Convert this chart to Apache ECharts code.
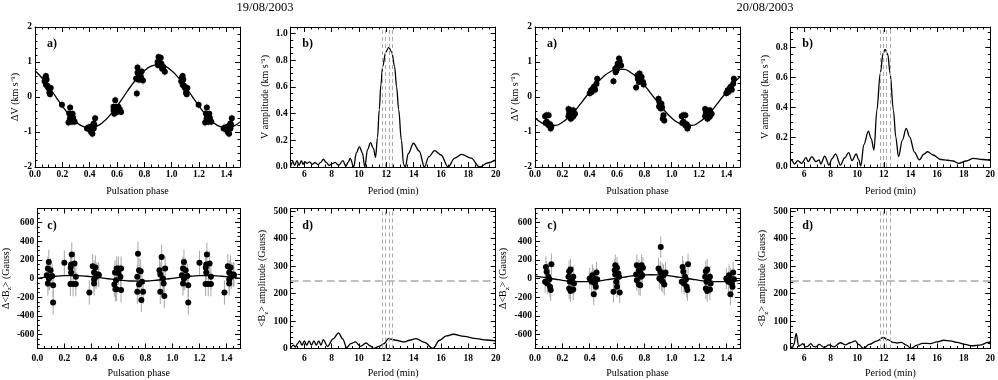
<!DOCTYPE html>
<html><head><meta charset="utf-8">
<script src="https://cdn.jsdelivr.net/npm/echarts@6/dist/echarts.min.js"></script>
<style>html,body{margin:0;padding:0;background:#fff}#c{width:998px;height:380px}</style>
</head><body><div id="c"></div>
<script>
// ---------------- DATA ----------------
const titles = ['19/08/2003', '20/08/2003'];
const panelLabels = ['a)', 'b)', 'c)', 'd)'];
const phaseTicks = [0, 0.2, 0.4, 0.6, 0.8, 1.0, 1.2, 1.4];
const dvTicks = [-2, -1, 0, 1, 2];
const periodTicks = [6, 8, 10, 12, 14, 16, 18, 20];
const ampTicks1 = [0, 0.2, 0.4, 0.6, 0.8, 1.0];
const ampTicks2 = [0, 0.2, 0.4, 0.6, 0.8];
const dbTicks = [-600, -400, -200, 0, 200, 400, 600];
const bampTicks = [0, 100, 200, 300, 400, 500];
const dashedPeriods = [11.7, 11.95, 12.2, 12.45];
const bThreshold = 245;
const errV1 = 0.12, errV2 = 0.12, errB1 = 130, errB2 = 115;

// 19/08/2003 radial velocity (phase 0-1; points with phase<0.5 are repeated one cycle later)
const phaseV1 = [0.075,0.08,0.085,0.07,0.08,0.09,0.095,0.10,0.105,0.11,0.115, 0.197,
  0.257,0.25,0.26,0.27,0.28,0.245,0.27,0.29,0.275,0.255,
  0.39,0.40,0.41,0.42,0.43,0.435,0.44,0.43,0.41,0.42,0.38,
  0.587,0.574,0.594,0.60,0.58,0.60,0.62,0.63,0.575,0.61,0.585,
  0.75,0.75,0.74,0.76,0.77,0.78,0.79,0.765,0.745,0.755,0.775,
  0.904,0.92,0.897,0.91,0.925,0.94,0.90,0.95,0.93,0.915];
const dV1 = [0.55,0.60,0.50,0.45,0.35,0.32,0.28,0.25,0.12,0.08,0.26, -0.22,
  -0.30,-0.47,-0.54,-0.52,-0.60,-0.73,-0.71,-0.71,-0.48,-0.62,
  -0.87,-0.93,-1.0,-1.05,-0.9,-0.8,-0.61,-0.76,-0.84,-0.92,-0.9,
  -0.09,-0.28,-0.28,-0.38,-0.48,-0.43,-0.35,-0.43,-0.38,-0.28,-0.33,
  0.84,0.69,0.53,0.59,0.64,0.73,0.47,0.50,0.10,0.5,0.57,
  1.14,1.12,1.0,1.02,0.95,0.86,0.91,0.72,0.81,0.93];
// 19/08/2003 magnetic field
const phaseB1 = [0.085,0.078,0.098,0.07,0.11,0.085,0.078,0.117,0.117,0.09, 0.2,
  0.25,0.255,0.247,0.25,0.275,0.285,0.245,0.265,0.285, 0.385,
  0.41,0.43,0.42,0.452,0.435,0.42,0.42,0.44,0.455,
  0.587,0.60,0.62,0.575,0.57,0.587,0.578,0.62,0.615,0.583,0.6,
  0.745,0.753,0.74,0.753,0.74,0.783,0.77,0.775,0.765,
  0.92,0.904,0.91,0.93,0.91,0.94,0.946,0.935];
const dB1 = [178,106,89,36,28,0,-53,-71,-256,10, 170,
  149,256,114,64,160,18,-60,-60,-60, -149,
  131,117,64,43,18,-11,-53,43,36,
  107,107,107,64,-64,-114,-114,-124,18,-18,60,
  266,89,18,-64,-142,-142,-231,-36,78,
  231,89,43,0,-142,-188,107,-53];
// 20/08/2003 radial velocity
const phaseV2 = [0.085,0.10,0.074,0.085,0.095,0.11,0.12,0.115,0.10,0.078,
  0.245,0.257,0.27,0.28,0.25,0.26,0.275,0.285,0.245,0.262,0.293,0.252,0.265,0.28,
  0.41,0.425,0.435,0.45,0.455,0.415,0.43,0.44,0.40,0.42,
  0.574,0.587,0.60,0.61,0.62,0.615,0.595,0.605,0.59,0.63,0.60,
  0.74,0.75,0.765,0.775,0.79,0.76,0.78,0.752,0.765,0.795,0.77,0.755,
  0.904,0.91,0.917,0.93,0.925,0.908,0.94,0.935,0.946,0.92];
const dV2 = [-0.52,-0.52,-0.55,-0.71,-0.76,-0.78,-0.84,-0.9,-0.81,-0.74,
  -0.34,-0.38,-0.43,-0.38,-0.48,-0.52,-0.57,-0.50,-0.55,-0.62,-0.48,-0.41,-0.45,-0.55,
  0.19,0.24,0.30,0.38,0.52,0.14,0.28,0.21,0.11,0.2,
  0.45,0.81,0.86,0.9,1.02,1.1,0.76,0.95,0.71,0.9,0.80,
  0.27,0.62,0.57,0.49,0.43,0.43,0.57,0.52,0.67,0.36,0.47,0.58,
  -0.05,-0.14,-0.24,-0.3,-0.19,-0.27,-0.52,-0.62,-0.67,-0.33];
// 20/08/2003 magnetic field
const phaseB2 = [0.08,0.085,0.098,0.074,0.09,0.11,0.115,0.12,0.105,
  0.25,0.26,0.245,0.27,0.28,0.25,0.26,0.28,0.285,0.255,
  0.40,0.415,0.43,0.44,0.45,0.445,0.43,0.42,0.455,
  0.574,0.587,0.60,0.61,0.587,0.595,0.60,0.62,0.583,0.615,
  0.745,0.76,0.77,0.78,0.79,0.745,0.76,0.775,0.785,0.74,0.77,
  0.92,0.904,0.917,0.93,0.94,0.91,0.935,0.946,0.925,0.955];
const dB2 = [124,71,18,-36,-53,-89,-124,153,-7,
  78,96,18,-11,18,-107,-135,-117,-53,-36,
  0,-36,0,-53,64,-89,-170,36,-7,
  -142,142,114,53,43,-36,-89,-149,89,18,
  142,89,64,142,114,-18,-64,18,36,43,-71,
  337,107,71,54,36,0,-36,-64,-18,64];

// fitted curves
const fitPhase = [0,0.05,0.1,0.15,0.2,0.25,0.3,0.35,0.4,0.45,0.5,0.55,0.6,0.65,0.7,0.75,0.8,0.85,0.9,0.95,1.0,1.05,1.1,1.15,1.2,1.25,1.3,1.35,1.4,1.45,1.5];
const fitV1 = [0.75,0.55,0.30,0.02,-0.26,-0.51,-0.71,-0.84,-0.88,-0.84,-0.71,-0.51,-0.26,0.02,0.30,0.55,0.75,0.88,0.92,0.88,0.75,0.55,0.30,0.02,-0.26,-0.51,-0.71,-0.84,-0.88,-0.84,-0.71];
const fitV2 = [-0.60,-0.74,-0.81,-0.81,-0.72,-0.57,-0.36,-0.11,0.14,0.38,0.58,0.72,0.79,0.79,0.70,0.55,0.34,0.09,-0.16,-0.40,-0.60,-0.74,-0.81,-0.81,-0.72,-0.57,-0.36,-0.11,0.14,0.38,0.58];
const fitB1 = [2,11,20,26,31,32,31,26,20,11,2,-7,-16,-22,-27,-28,-27,-22,-16,-7,2,11,20,26,31,32,31,26,20,11,2];
const fitB2 = [25,14,3,-8,-19,-27,-32,-34,-32,-27,-19,-8,3,14,25,33,38,40,38,33,25,14,3,-8,-19,-27,-32,-34,-32,-27,-19];

// amplitude spectra (period in min)
const perV1 = [5.0,5.16,5.29,5.46,5.61,5.78,5.9,6.03,6.2,6.4,6.57,6.77,7.01,7.2,7.39,7.6,7.81,8.05,8.25,8.5,8.82,9.04,9.2,9.36,9.61,9.8,10.03,10.25,10.42,10.62,10.84,11.05,11.21,11.35,11.48,11.6,11.73,11.95,12.18,12.4,12.6,12.75,12.9,13.1,13.26,13.39,13.6,13.98,14.4,14.79,15.1,15.53,16.0,16.52,17.0,17.51,18.2,18.82,19.4,20.0];
const ampV1 = [0.008,0.04,0.012,0.048,0.012,0.048,0.02,0.04,0.028,0.038,0.02,0.033,0.018,0.035,0.058,0.035,0.012,0.025,0.035,0.012,0.048,0.005,0.035,0.065,0.0,0.105,0.153,0.105,0.0,0.13,0.183,0.14,0.073,0.22,0.43,0.62,0.754,0.86,0.897,0.86,0.754,0.6,0.43,0.2,0.02,0.0,0.1,0.178,0.12,0.0,0.076,0.123,0.09,0.0,0.066,0.095,0.066,0.0,0.03,0.053];
const perV2 = [5.0,5.04,5.29,5.53,5.83,6.15,6.32,6.59,6.89,7.14,7.26,7.56,7.88,8.1,8.37,8.74,9.05,9.36,9.61,9.93,10.1,10.27,10.5,10.84,11.05,11.26,11.48,11.73,11.95,12.1,12.3,12.47,12.72,12.9,13.1,13.4,13.68,13.95,14.3,14.67,15.0,15.29,15.7,16.27,16.8,17.2,17.63,18.2,18.74,19.4,20.0];
const ampV2 = [0.04,0.051,0.02,0.042,0.024,0.062,0.036,0.069,0.036,0.047,0.02,0.073,0.013,0.055,0.087,0.013,0.06,0.096,0.042,0.087,0.05,0.007,0.15,0.24,0.19,0.113,0.38,0.625,0.76,0.785,0.75,0.625,0.38,0.2,0.07,0.18,0.258,0.2,0.1,0.047,0.085,0.102,0.08,0.05,0.045,0.04,0.024,0.04,0.058,0.05,0.045];
const perB1 = [5.0,5.2,5.35,5.5,5.66,5.83,6.0,6.17,6.35,6.52,6.7,6.87,7.05,7.22,7.38,7.7,8.1,8.5,8.8,9.1,9.4,9.73,10.1,10.52,10.8,11.09,11.46,11.83,12.15,12.7,13.3,13.7,14.17,14.8,15.4,15.9,16.4,16.9,17.7,18.6,19.3,20.0];
const ampB1 = [2,12,5,18,28,12,28,12,28,12,28,12,28,12,32,8,35,57,35,3,18,24,8,20,10,0,8,18,36,30,24,30,36,22,0,30,46,52,44,36,31,28];
const perB2 = [5.0,5.1,5.25,5.41,5.6,5.75,5.9,6.1,6.27,6.52,6.7,6.89,7.14,7.51,7.88,8.25,8.74,9.11,9.48,9.85,10.1,10.47,10.9,11.5,11.96,12.3,12.7,13.0,13.32,13.7,14.05,14.5,14.9,15.5,16.0,16.5,17.0,17.5,18.1,18.6,19.2,19.85,20.0];
const ampB2 = [10,2,15,55,8,12,18,6,8,18,8,6,15,4,13,6,21,13,21,28,15,0,15,28,40,32,22,20,22,12,0,12,19,18,24,30,28,22,15,10,12,22,24];

// ---------------- CHART ----------------
const SERIF = '"Liberation Serif","Times New Roman",serif';
const grid = [], xAxis = [], yAxis = [], series = [], graphic = [];

function minorVals(min, max, step, major) {
  const out = [];
  const n0 = Math.ceil(min / step - 1e-9), n1 = Math.floor(max / step + 1e-9);
  for (let n = n0; n <= n1; n++) {
    const v = Math.round(n * step * 1e6) / 1e6;
    if (!major.some(m => Math.abs(m - v) < 1e-9)) out.push(v);
  }
  return out;
}

function axisSet(dim, gi, c, posMain, posOther) {
  const arr = dim === 'x' ? xAxis : yAxis;
  const idx = arr.length;
  const base = { gridIndex: gi, type: 'value', min: c.min, max: c.max, splitLine: { show: false } };
  const line = { show: true, onZero: false, lineStyle: { color: '#000', width: 1 } };
  const tickStyle = { color: '#000', width: 1 };
  const minor = minorVals(c.min, c.max, c.minorStep, c.ticks);
  arr.push(Object.assign({}, base, {
    position: posMain, axisLine: line,
    axisTick: { show: true, inside: true, length: 5, customValues: c.ticks, lineStyle: tickStyle },
    axisLabel: { show: true, customValues: c.ticks, formatter: c.fmt, margin: c.margin, color: '#000',
      fontFamily: SERIF, fontWeight: 'bold', fontSize: 9.5 },
    name: c.name, nameLocation: 'middle', nameGap: c.nameGap,
    nameTextStyle: { color: '#000', fontFamily: SERIF, fontSize: 10,
      rich: { s: { fontFamily: SERIF, fontSize: 7, padding: [7, 0, 0, 0], color: '#000' } } }
  }));
  arr.push(Object.assign({}, base, {
    position: posOther, axisLine: line,
    axisTick: { show: true, inside: true, length: 5, customValues: c.ticks, lineStyle: tickStyle },
    axisLabel: { show: false }
  }));
  [posMain, posOther].forEach(p => arr.push(Object.assign({}, base, {
    position: p, axisLine: { show: false, onZero: false },
    axisTick: { show: true, inside: true, length: 2.5, customValues: minor, lineStyle: tickStyle },
    axisLabel: { show: false }
  })));
  return idx;
}

function addPanel(box, xc, yc, label) {
  const gi = grid.length;
  grid.push({ left: box[0], top: box[1], width: box[2], height: box[3], containLabel: false });
  const xi = axisSet('x', gi, xc, 'bottom', 'top');
  const yi = axisSet('y', gi, yc, 'left', 'right');
  graphic.push({ type: 'text', x: box[0] + 17, y: box[1] + 17,
    style: { text: label, fontFamily: SERIF, fontWeight: 'bold', fontSize: 12, fill: '#000', align: 'center', verticalAlign: 'middle' } });
  return { xi, yi };
}

const f1 = v => v.toFixed(1);
const f0 = v => String(Math.round(v));

function phaseAxis(margin, gap) {
  return { min: 0, max: 1.5, ticks: phaseTicks, minorStep: 0.05, fmt: f1, margin, name: 'Pulsation phase', nameGap: gap };
}
function periodAxis(margin, gap) {
  return { min: 5, max: 20, ticks: periodTicks, minorStep: 0.5, fmt: f0, margin, name: 'Period (min)', nameGap: gap };
}

function phased(ph, val, err) {
  const out = [];
  ph.forEach((p, i) => { out.push([p, val[i], err]); if (p + 1 <= 1.5) out.push([p + 1, val[i], err]); });
  return out;
}

function addPhasePanel(ax, ph, val, err, fit, errColor) {
  const d = phased(ph, val, err);
  series.push({
    type: 'custom', xAxisIndex: ax.xi, yAxisIndex: ax.yi, z: 1, silent: true,
    encode: { x: 0, y: 1 },
    renderItem: (params, api) => {
      const x = api.value(0), y = api.value(1), e = api.value(2);
      const a = api.coord([x, y - e]), b = api.coord([x, y + e]);
      return { type: 'line', shape: { x1: a[0], y1: a[1], x2: b[0], y2: b[1] }, style: { stroke: errColor, lineWidth: 1 } };
    },
    data: d
  });
  series.push({ type: 'scatter', xAxisIndex: ax.xi, yAxisIndex: ax.yi, z: 2, symbol: 'circle', symbolSize: 6,
    itemStyle: { color: '#000', opacity: 1 }, data: d.map(r => [r[0], r[1]]) });
  series.push({ type: 'line', xAxisIndex: ax.xi, yAxisIndex: ax.yi, z: 3, smooth: true, showSymbol: false,
    lineStyle: { color: '#000', width: 1.3 }, data: fitPhase.map((p, i) => [p, fit[i]]) });
}

function addSpecPanel(ax, per, amp, thr) {
  const ml = dashedPeriods.map(p => ({ xAxis: p, lineStyle: { type: [4, 3], color: '#aaa', width: 1 } }));
  if (thr !== null) ml.push({ yAxis: thr, lineStyle: { type: [8, 4], color: '#aaa', width: 1.6 } });
  series.push({ type: 'line', xAxisIndex: ax.xi, yAxisIndex: ax.yi, z: 3, smooth: 0.35, smoothMonotone: 'x', showSymbol: false,
    lineStyle: { color: '#000', width: 1.3 }, data: per.map((p, i) => [p, amp[i]]),
    markLine: { silent: true, symbol: 'none', label: { show: false }, animation: false, data: ml } });
}

const colX = [35, 290.7, 535, 790.7];
const topY = 27, botY = 208.5, W = 205, H = 140;
const vName = 'ΔV (km s⁻¹)', ampName = 'V amplitude (km s⁻¹)';
const bName = 'Δ<B{s|z}> (Gauss)', bampName = '<B{s|z}> amplitude (Gauss)';

const days = [
  { col: 0, ph: phaseV1, v: dV1, fv: fitV1, phB: phaseB1, b: dB1, fb: fitB1, per: perV1, amp: ampV1, ymax: 1.05, aTicks: ampTicks1, perB: perB1, ampB: ampB1, eV: errV1, eB: errB1 },
  { col: 2, ph: phaseV2, v: dV2, fv: fitV2, phB: phaseB2, b: dB2, fb: fitB2, per: perV2, amp: ampV2, ymax: 0.935, aTicks: ampTicks2, perB: perB2, ampB: ampB2, eV: errV2, eB: errB2 }
];

days.forEach((dd, k) => {
  const xa = colX[dd.col], xb = colX[dd.col + 1];
  let ax = addPanel([xa, topY, W, H], phaseAxis(3, 19),
    { min: -2, max: 2, ticks: dvTicks, minorStep: 0.2, fmt: f0, margin: 3, name: vName, nameGap: 14 }, panelLabels[0]);
  addPhasePanel(ax, dd.ph, dd.v, dd.eV, dd.fv, '#b5b5b5');
  ax = addPanel([xb, topY, W, H], periodAxis(3, 19),
    { min: 0, max: dd.ymax, ticks: dd.aTicks, minorStep: 0.05, fmt: f1, margin: 3, name: ampName, nameGap: 20 }, panelLabels[1]);
  addSpecPanel(ax, dd.per, dd.amp, null);
  ax = addPanel([xa, botY, W, H], phaseAxis(5, 20),
    { min: -750, max: 750, ticks: dbTicks, minorStep: 50, fmt: f0, margin: 3, name: bName, nameGap: 20 }, panelLabels[2]);
  addPhasePanel(ax, dd.phB, dd.b, dd.eB, dd.fb, '#a8a8a8');
  ax = addPanel([xb, botY, W, H], periodAxis(5, 20),
    { min: 0, max: 510, ticks: bampTicks, minorStep: 20, fmt: f0, margin: 3, name: bampName, nameGap: 21 }, panelLabels[3]);
  addSpecPanel(ax, dd.perB, dd.ampB, bThreshold);
  graphic.push({ type: 'text', x: 265 + 500 * k, y: 8,
    style: { text: titles[k], fontFamily: SERIF, fontSize: 12.5, fill: '#000', align: 'center', verticalAlign: 'middle' } });
});

const chart = echarts.init(document.getElementById('c'), null, { renderer: 'canvas' });
chart.setOption({ animation: false, backgroundColor: '#fff', grid, xAxis, yAxis, series, graphic });
</script>
</body></html>
